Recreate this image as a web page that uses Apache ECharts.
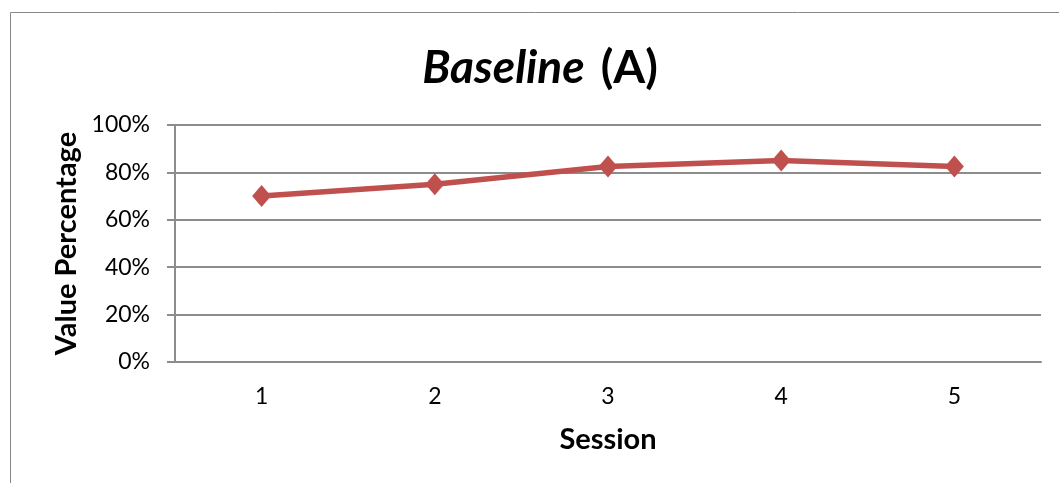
<!DOCTYPE html>
<html>
<head>
<meta charset="utf-8">
<script src="https://cdn.jsdelivr.net/npm/echarts@6/dist/echarts.min.js"></script>
<style>
html,body{margin:0;padding:0;background:#fff;}
#c{width:1059px;height:483px;}
</style>
</head>
<body>
<div id="c"></div>
<script>
const sessions = ['1', '2', '3', '4', '5'];
const valuePercent = [70, 75, 82.5, 85, 82.5];
const yTicks = [0, 20, 40, 60, 80, 100];

const FONT = 'Lato, "Liberation Sans", sans-serif';
const chart = echarts.init(document.getElementById('c'));
chart.setOption({
  animation: false,
  backgroundColor: '#fff',
  graphic: [{
    type: 'rect',
    shape: {x: 10.5, y: 12.5, width: 1100, height: 500},
    style: {fill: 'none', stroke: '#888', lineWidth: 1},
    silent: true
  }],
  title: {
    text: '{i|Baseline}{b|(A)}',
    left: 535, top: 40, textAlign: 'center',
    textStyle: {
      rich: {
        i: {fontFamily: FONT, fontSize: 46, fontWeight: 'bold', fontStyle: 'italic', color: '#000'},
        b: {fontFamily: FONT, fontSize: 46, fontWeight: 'bold', color: '#000', padding: [0, 0, 0, 16]}
      }
    }
  },
  grid: {left: 175, right: 18, top: 125, bottom: 121, containLabel: false},
  xAxis: {
    type: 'category',
    data: sessions,
    boundaryGap: true,
    name: 'Session',
    nameLocation: 'middle',
    nameGap: 63,
    nameTextStyle: {fontFamily: FONT, fontSize: 29, fontWeight: 'bold', color: '#000'},
    axisLine: {lineStyle: {color: '#8c8c8c', width: 2}},
    axisTick: {show: false},
    axisLabel: {fontFamily: FONT, fontSize: 23, color: '#000', margin: 23}
  },
  yAxis: {
    type: 'value',
    min: 0, max: 100, interval: 20,
    name: 'Value Percentage',
    nameLocation: 'middle',
    nameGap: 94,
    nameTextStyle: {fontFamily: FONT, fontSize: 29, fontWeight: 'bold', color: '#000'},
    axisLine: {show: true, lineStyle: {color: '#8c8c8c', width: 2}},
    axisTick: {show: true, length: 8, lineStyle: {color: '#8c8c8c', width: 2}},
    splitLine: {lineStyle: {color: '#8c8c8c', width: 2}},
    axisLabel: {
      fontFamily: FONT, fontSize: 23, color: '#000', margin: 25,
      formatter: v => yTicks.includes(v) ? v + '%' : ''
    }
  },
  series: [{
    type: 'line',
    data: valuePercent,
    symbol: 'diamond',
    symbolSize: [19, 22],
    lineStyle: {color: '#C0504D', width: 5.5},
    itemStyle: {color: '#C0504D'}
  }]
});
</script>
</body>
</html>
